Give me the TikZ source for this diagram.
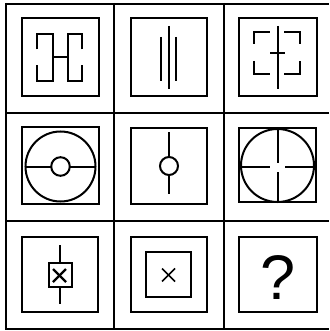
\documentclass[tikz,border=0pt]{standalone}
\usepackage{fontspec}
\setmainfont{Liberation Sans}
\begin{document}
\begin{tikzpicture}[x=1pt,y=-1pt,
  gridline/.style={line width=2.4pt},
  sq/.style={line width=2pt},
  sym/.style={line width=2pt},
  line cap=butt, line join=miter]
\useasboundingbox (0,0) rectangle (329,331);
\fill[white] (0,0) rectangle (329,331);
% grid
\draw[gridline] (6,4) -- (329,4);
\draw[gridline] (6,113) -- (329,113);
\draw[gridline] (6,221) -- (329,221);
\draw[gridline] (6,329) -- (329,329);
\draw[gridline] (6,3) -- (6,330);
\draw[gridline] (114,3) -- (114,330);
\draw[gridline] (224,3) -- (224,330);
% row 1
\draw[sq] (22,18) rectangle (99,96);
\draw[sym] (36.7,49.3) -- (36.7,34.3) -- (52.7,34.3) -- (52.7,80.7) -- (36.7,80.7) -- (36.7,65);
\draw[sym] (82.3,49.3) -- (82.3,34.3) -- (68.3,34.3) -- (68.3,80.7) -- (82.3,80.7) -- (82.3,65);
\draw[sym] (52.7,57.3) -- (68.3,57.3);

\draw[sq] (131,18) rectangle (207,96);
\draw[sym] (168.5,26) -- (168.5,89);
\draw[sym] (161,37) -- (161,81);
\draw[sym] (176,37) -- (176,81);

\draw[sq] (239,18) rectangle (317,96);
\draw[sym] (278,26) -- (278,89);
\draw[sym] (270,53) -- (285,53);
\draw[sym] (254,44) -- (254,32) -- (270,32);
\draw[sym] (284,32) -- (300,32) -- (300,44);
\draw[sym] (254,61) -- (254,74) -- (270,74);
\draw[sym] (284,74) -- (300,74) -- (300,61);
% row 2
\draw[sq] (22,127) rectangle (99,204);
\draw[sym] (60.5,166.5) circle (35);
\draw[sym] (60.5,166.5) circle (9.3);
\draw[sym] (25.5,166.5) -- (51.2,166.5);
\draw[sym] (69.8,166.5) -- (95.5,166.5);

\draw[sq] (131,128) rectangle (207,204);
\draw[sym] (169,132) -- (169,157);
\draw[sym] (169,166) circle (9);
\draw[sym] (169,175) -- (169,194);

\draw[sq] (239,128) rectangle (316,202);
\draw[sym] (277.5,165.5) circle (36.5);
\draw[sym] (241,166.5) -- (270,166.5);
\draw[sym] (285,166.5) -- (314,166.5);
\draw[sym] (278,129) -- (278,163);
\draw[sym] (278,172) -- (278,202);
% row 3
\draw[sq] (22,237) rectangle (98,312);
\draw[sym] (60,245) -- (60,304);
\draw[sym,fill=white] (48.5,263) rectangle (71.5,287);
\draw[line width=2.2pt] (53,269) -- (66,282);
\draw[line width=2.2pt] (53,282) -- (66,269);

\draw[sq] (131,237) rectangle (207,312);
\draw[sq] (146,252) rectangle (191,297);
\draw[line width=1.6pt] (162,268.5) -- (175,281.5);
\draw[line width=1.6pt] (162,281.5) -- (175,268.5);

\draw[sq] (239,237) rectangle (317,312);
\node[anchor=base, inner sep=0pt, font=\fontsize{63}{63}\selectfont] (q) at (278,299) {?};
\end{tikzpicture}
\end{document}
